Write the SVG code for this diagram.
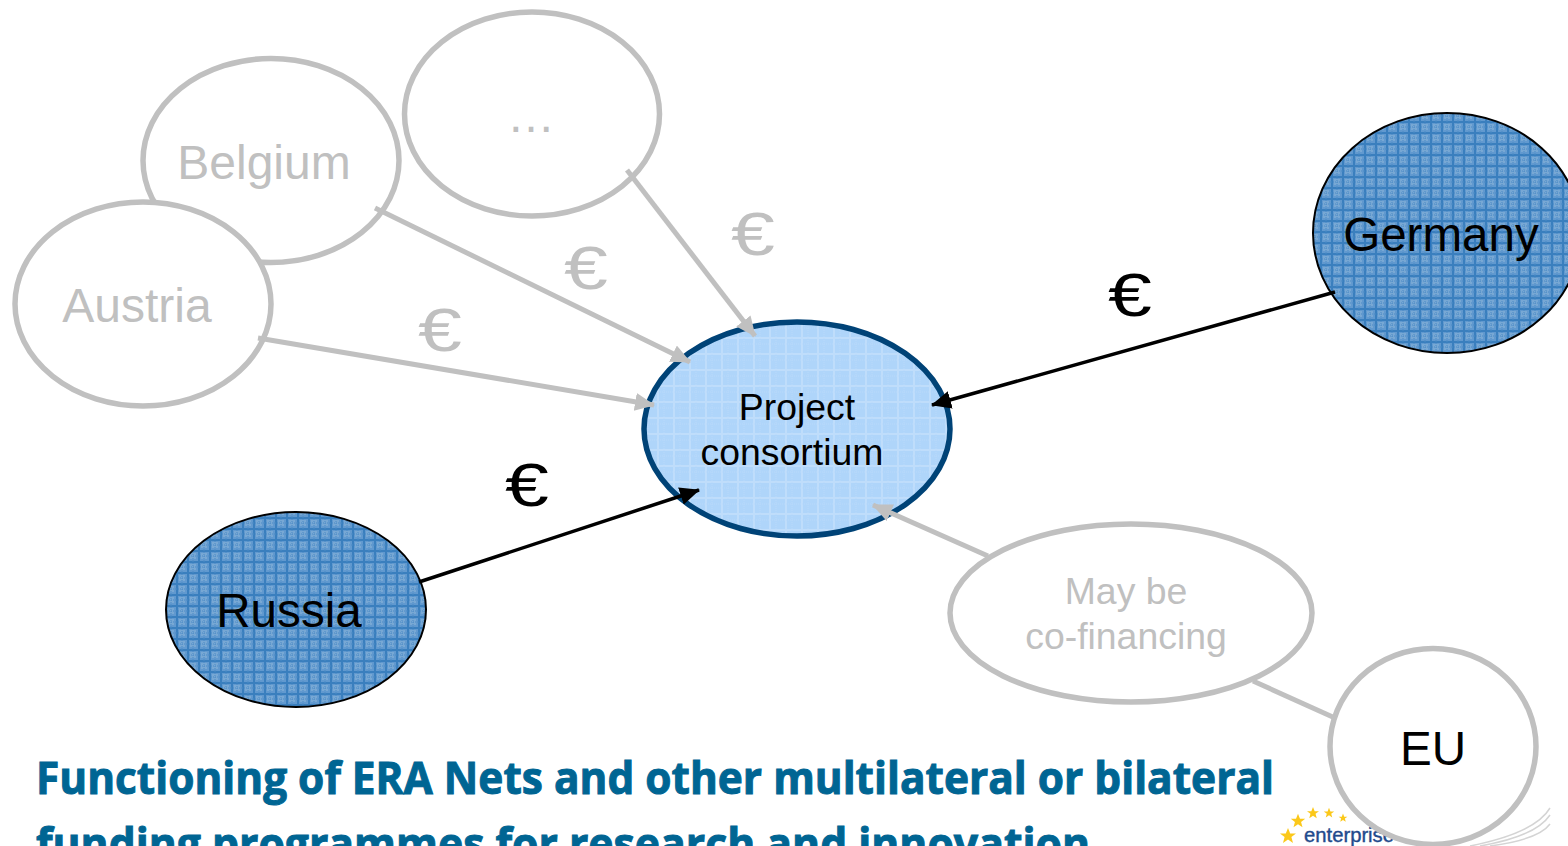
<svg xmlns="http://www.w3.org/2000/svg" width="1568" height="846" viewBox="0 0 1568 846">
<style>
text{font-family:"Liberation Sans",Arial,sans-serif;text-anchor:middle}
.g{fill:#fff;stroke:#c0c0c0;stroke-width:5.5}
.gt{fill:#c0c0c0}
.k{fill:#000}
.cg{stroke:#c0c0c0;stroke-width:5;fill:none}
.ck{stroke:#000;stroke-width:3.5;fill:none}
.title{font-family:"Open Sans","Noto Sans",sans-serif;font-weight:700;font-size:45px;fill:#006593;stroke:#006593;stroke-width:1;text-anchor:start}
.star{fill:#fbc81a}
.sw{fill:none;stroke:#d4d4d4;stroke-width:1.5}
</style>
<defs>
<pattern id="dark" width="11" height="11" patternUnits="userSpaceOnUse">
<rect width="11" height="11" fill="#6199cf"/>
<rect x="3" y="3" width="6" height="6" fill="#78a8d4"/>
<path d="M1 0V11M0 1H11" stroke="#3a7fbe" stroke-width="2"/>
<path d="M6 0V11M0 6H11" stroke="#4a8bc6" stroke-width="1" stroke-dasharray="1 1"/>
</pattern>
<pattern id="light" width="16" height="16" patternUnits="userSpaceOnUse">
<rect width="16" height="16" fill="#afd5fa"/>
<path d="M2 0V16M0 2H16" stroke="#bfddfb" stroke-width="2"/>
<path d="M8 0V16M0 8H16" stroke="#b9dafb" stroke-width="1" stroke-dasharray="1 1"/>
</pattern>
<marker id="ag" markerUnits="userSpaceOnUse" markerWidth="22" markerHeight="20" refX="19" refY="9" orient="auto"><path d="M0 0L20 9L0 18Z" fill="#c0c0c0"/></marker>
<marker id="ak" markerUnits="userSpaceOnUse" markerWidth="22" markerHeight="20" refX="19" refY="9" orient="auto"><path d="M0 0L20 9L0 18Z" fill="#000"/></marker>
<path id="s" d="M0-8L2.2-2.5L8-2.5L3.4 1L5 7L0 3.5L-5 7L-3.4 1L-8-2.5L-2.2-2.5Z"/>
</defs>
<rect width="1568" height="846" fill="#fff"/>

<g id="title">
<text class="title" x="36" y="794" textLength="1238" lengthAdjust="spacingAndGlyphs">Functioning of ERA Nets and other multilateral or bilateral</text>
<text class="title" x="36" y="860" textLength="1054" lengthAdjust="spacingAndGlyphs">funding programmes for research and innovation</text>
</g>

<g id="logo">
<use href="#s" class="star" transform="translate(1288,836)"/>
<use href="#s" class="star" transform="translate(1298,821) scale(.9)"/>
<use href="#s" class="star" transform="translate(1313,813) scale(.75)"/>
<use href="#s" class="star" transform="translate(1329,813) scale(.65)"/>
<use href="#s" class="star" transform="translate(1343,818) scale(.55)"/>
<text x="1304" y="842" style="text-anchor:start;font-size:21px;fill:#1f4a8c;stroke:#1f4a8c;stroke-width:.4" textLength="90" lengthAdjust="spacingAndGlyphs">enterprise</text>
<path class="sw" d="M1470 846C1510 838 1540 825 1550 808M1480 846C1515 840 1540 830 1550 815M1490 846C1520 842 1542 835 1550 824"/>
</g>

<g id="node-belgium"><ellipse class="g" cx="271" cy="160.500" rx="128" ry="102"/><text class="gt" x="264" y="179" font-size="48">Belgium</text></g>
<g id="node-more"><ellipse class="g" cx="532" cy="114" rx="127.500" ry="102"/><text class="gt" x="531" y="132" font-size="48">…</text></g>
<g id="node-austria"><ellipse class="g" cx="143" cy="304" rx="128" ry="102"/><text class="gt" x="137" y="322" font-size="48">Austria</text></g>
<g id="node-project"><ellipse cx="797" cy="429" rx="153" ry="107" fill="url(#light)" stroke="#004377" stroke-width="5.500"/>
<text class="k" x="797" y="420" font-size="37.400">Project</text><text class="k" x="792" y="465" font-size="37.400">consortium</text></g>
<g id="node-germany"><ellipse cx="1447" cy="233" rx="134" ry="120" fill="url(#dark)" stroke="#000" stroke-width="2"/><text class="k" x="1441" y="251" font-size="47.600">Germany</text></g>
<g id="node-russia"><ellipse cx="296" cy="609.500" rx="130" ry="97.500" fill="url(#dark)" stroke="#000" stroke-width="2"/><text class="k" x="289" y="627" font-size="47.600">Russia</text></g>

<g id="connectors">
<path class="cg" marker-end="url(#ag)" d="M627 170L755 336"/>
<path class="cg" marker-end="url(#ag)" d="M375 208L690 362"/>
<path class="cg" marker-end="url(#ag)" d="M258 338L654 405"/>
<path class="cg" marker-end="url(#ag)" d="M988 556L873 505"/>
<path class="cg" d="M1253 681L1335 718"/>
<path class="ck" marker-end="url(#ak)" d="M1335 292L932 405"/>
<path class="ck" marker-end="url(#ak)" d="M419 582L699 490"/>
</g>

<g id="node-cofinancing"><ellipse class="g" cx="1131" cy="613" rx="181" ry="89"/><text class="gt" x="1126" y="604" font-size="37.400">May be</text><text class="gt" x="1126" y="649" font-size="37.400">co-financing</text></g>
<g id="node-eu"><ellipse cx="1433" cy="746.500" rx="103" ry="98" fill="#fff" stroke="#c0c0c0" stroke-width="5.500"/><text class="k" x="1433" y="765" font-size="47.600">EU</text></g>

<g id="euro-labels" font-size="62">
<text class="gt" transform="translate(753,255) scale(1.27,1)">€</text>
<text class="gt" transform="translate(586,289) scale(1.27,1)">€</text>
<text class="gt" transform="translate(440,351) scale(1.27,1)">€</text>
<text class="k" transform="translate(1130,316) scale(1.27,1)">€</text>
<text class="k" transform="translate(527,506) scale(1.27,1)">€</text>
</g>
</svg>
